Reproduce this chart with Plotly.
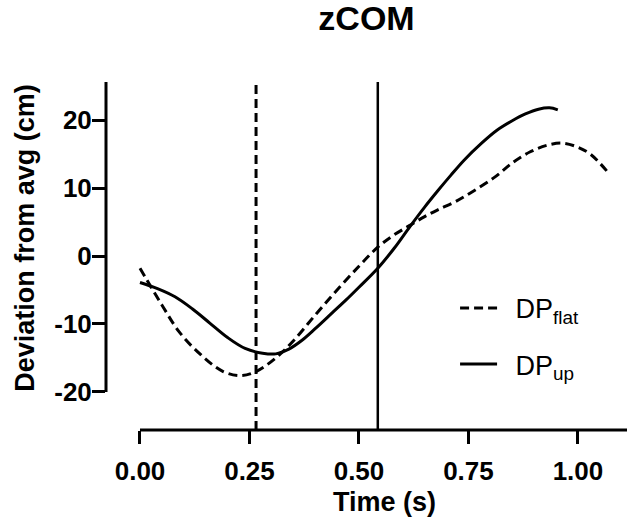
import plotly.graph_objects as go

# DP_flat (dashed) trace
t_flat = [0.00, 0.05, 0.09, 0.14, 0.19, 0.23, 0.265, 0.31, 0.35, 0.40, 0.45, 0.50,
          0.543, 0.58, 0.616, 0.65, 0.68, 0.72, 0.76, 0.81, 0.85, 0.89, 0.93, 0.965,
          1.00, 1.03, 1.07]
v_flat = [-1.8, -7.2, -11.2, -14.6, -17.0, -17.6, -17.0, -15.0, -12.5, -8.7, -5.0, -1.5,
          1.3, 3.1, 4.5, 5.8, 6.8, 8.0, 9.5, 11.6, 13.7, 15.3, 16.3, 16.6,
          16.0, 14.9, 12.2]

# DP_up (solid) trace
t_up = [0.00, 0.04, 0.08, 0.12, 0.16, 0.20, 0.24, 0.28, 0.31, 0.34, 0.37, 0.40,
        0.44, 0.47, 0.50, 0.543, 0.58, 0.616, 0.65, 0.68, 0.71, 0.74, 0.78, 0.815,
        0.85, 0.88, 0.91, 0.935, 0.954]
v_up = [-3.9, -4.8, -6.0, -7.8, -9.9, -12.0, -13.6, -14.3, -14.4, -13.7, -12.4, -10.7,
        -8.3, -6.5, -4.6, -1.8, 1.1, 4.3, 7.2, 9.6, 11.9, 14.1, 16.6, 18.5,
        19.9, 20.9, 21.6, 21.8, 21.5]

# event markers (vertical lines)
event_flat = 0.265
event_up = 0.543

x_ticks = [0.0, 0.25, 0.5, 0.75, 1.0]
x_labels = ["0.00", "0.25", "0.50", "0.75", "1.00"]
y_ticks = [-20, -10, 0, 10, 20]
y_labels = ["-20", "-10", "0", "10", "20"]

x_range = [-0.0776, 1.112]
y_range = [-25.6, 25.6]

FONT = "Liberation Sans, Arial, sans-serif"
dash = "9px,5px"

fig = go.Figure()

fig.add_trace(go.Scatter(
    x=t_flat, y=v_flat, mode="lines", line_shape="spline",
    line=dict(color="black", width=3, dash=dash),
    name="\u2002DP<sub>flat</sub>", legendgroup="a",
))
fig.add_trace(go.Scatter(
    x=t_up, y=v_up, mode="lines", line_shape="spline",
    line=dict(color="black", width=3),
    name="\u2002DP<sub>up</sub>", legendgroup="b",
))
fig.add_trace(go.Scatter(
    x=[event_flat, event_flat], y=y_range, mode="lines",
    line=dict(color="black", width=3, dash=dash), showlegend=False,
))
fig.add_trace(go.Scatter(
    x=[event_up, event_up], y=y_range, mode="lines",
    line=dict(color="black", width=2.5), showlegend=False,
))

# Prism-style detached axis lines
fig.add_shape(type="line", xref="paper", yref="y", x0=0, x1=0,
              y0=y_ticks[0], y1=y_range[1], line=dict(color="black", width=3))
fig.add_shape(type="line", xref="x", yref="paper", x0=x_ticks[0], x1=x_range[1],
              y0=0, y1=0, line=dict(color="black", width=3))

# axis titles centred on the drawn axis lines, like Prism does
fig.add_annotation(text="<b>Time (s)</b>", xref="paper", yref="paper",
                   x=0.534, y=-0.207, xanchor="center", yanchor="middle",
                   showarrow=False, font=dict(family=FONT, size=27, color="black"))
fig.add_annotation(text="<b>Deviation from avg (cm)</b>", xref="paper", yref="paper",
                   x=-0.157, y=0.553, xanchor="center", yanchor="middle",
                   textangle=-90, showarrow=False,
                   font=dict(family=FONT, size=27, color="black"))

fig.update_xaxes(
    range=x_range, showgrid=False, zeroline=False, showline=False,
    tickvals=x_ticks, ticktext=x_labels, ticks="outside", ticklen=13,
    tickwidth=3, tickcolor="black", ticklabelstandoff=5,
    tickfont=dict(family=FONT, size=26, color="black", weight="bold"),
)
fig.update_yaxes(
    range=y_range, showgrid=False, zeroline=False, showline=False,
    tickvals=y_ticks, ticktext=y_labels, ticks="outside", ticklen=13, tickwidth=3,
    tickcolor="black", ticklabelstandoff=-5,
    tickfont=dict(family=FONT, size=26, color="black", weight="bold"),
)

fig.update_layout(
    width=627, height=518,
    margin=dict(l=106, r=0, t=82, b=88, autoexpand=False),
    plot_bgcolor="white", paper_bgcolor="white",
    title=dict(text="<b>zCOM</b>", x=0.5, xref="paper", xanchor="center",
               y=1 - 6 / 518, yref="container", yanchor="top",
               font=dict(family=FONT, size=34, color="black")),
    legend=dict(x=0.67, y=0.42, xanchor="left", yanchor="top",
                font=dict(family=FONT, size=27, color="black"),
                bgcolor="rgba(0,0,0,0)", tracegroupgap=18,
                traceorder="grouped", itemwidth=37),
)

# drop the default 8px body margin so the figure fills the window
fig.write_html("out.html", config={"displayModeBar": False},
               post_script="document.body.style.margin='0';")
